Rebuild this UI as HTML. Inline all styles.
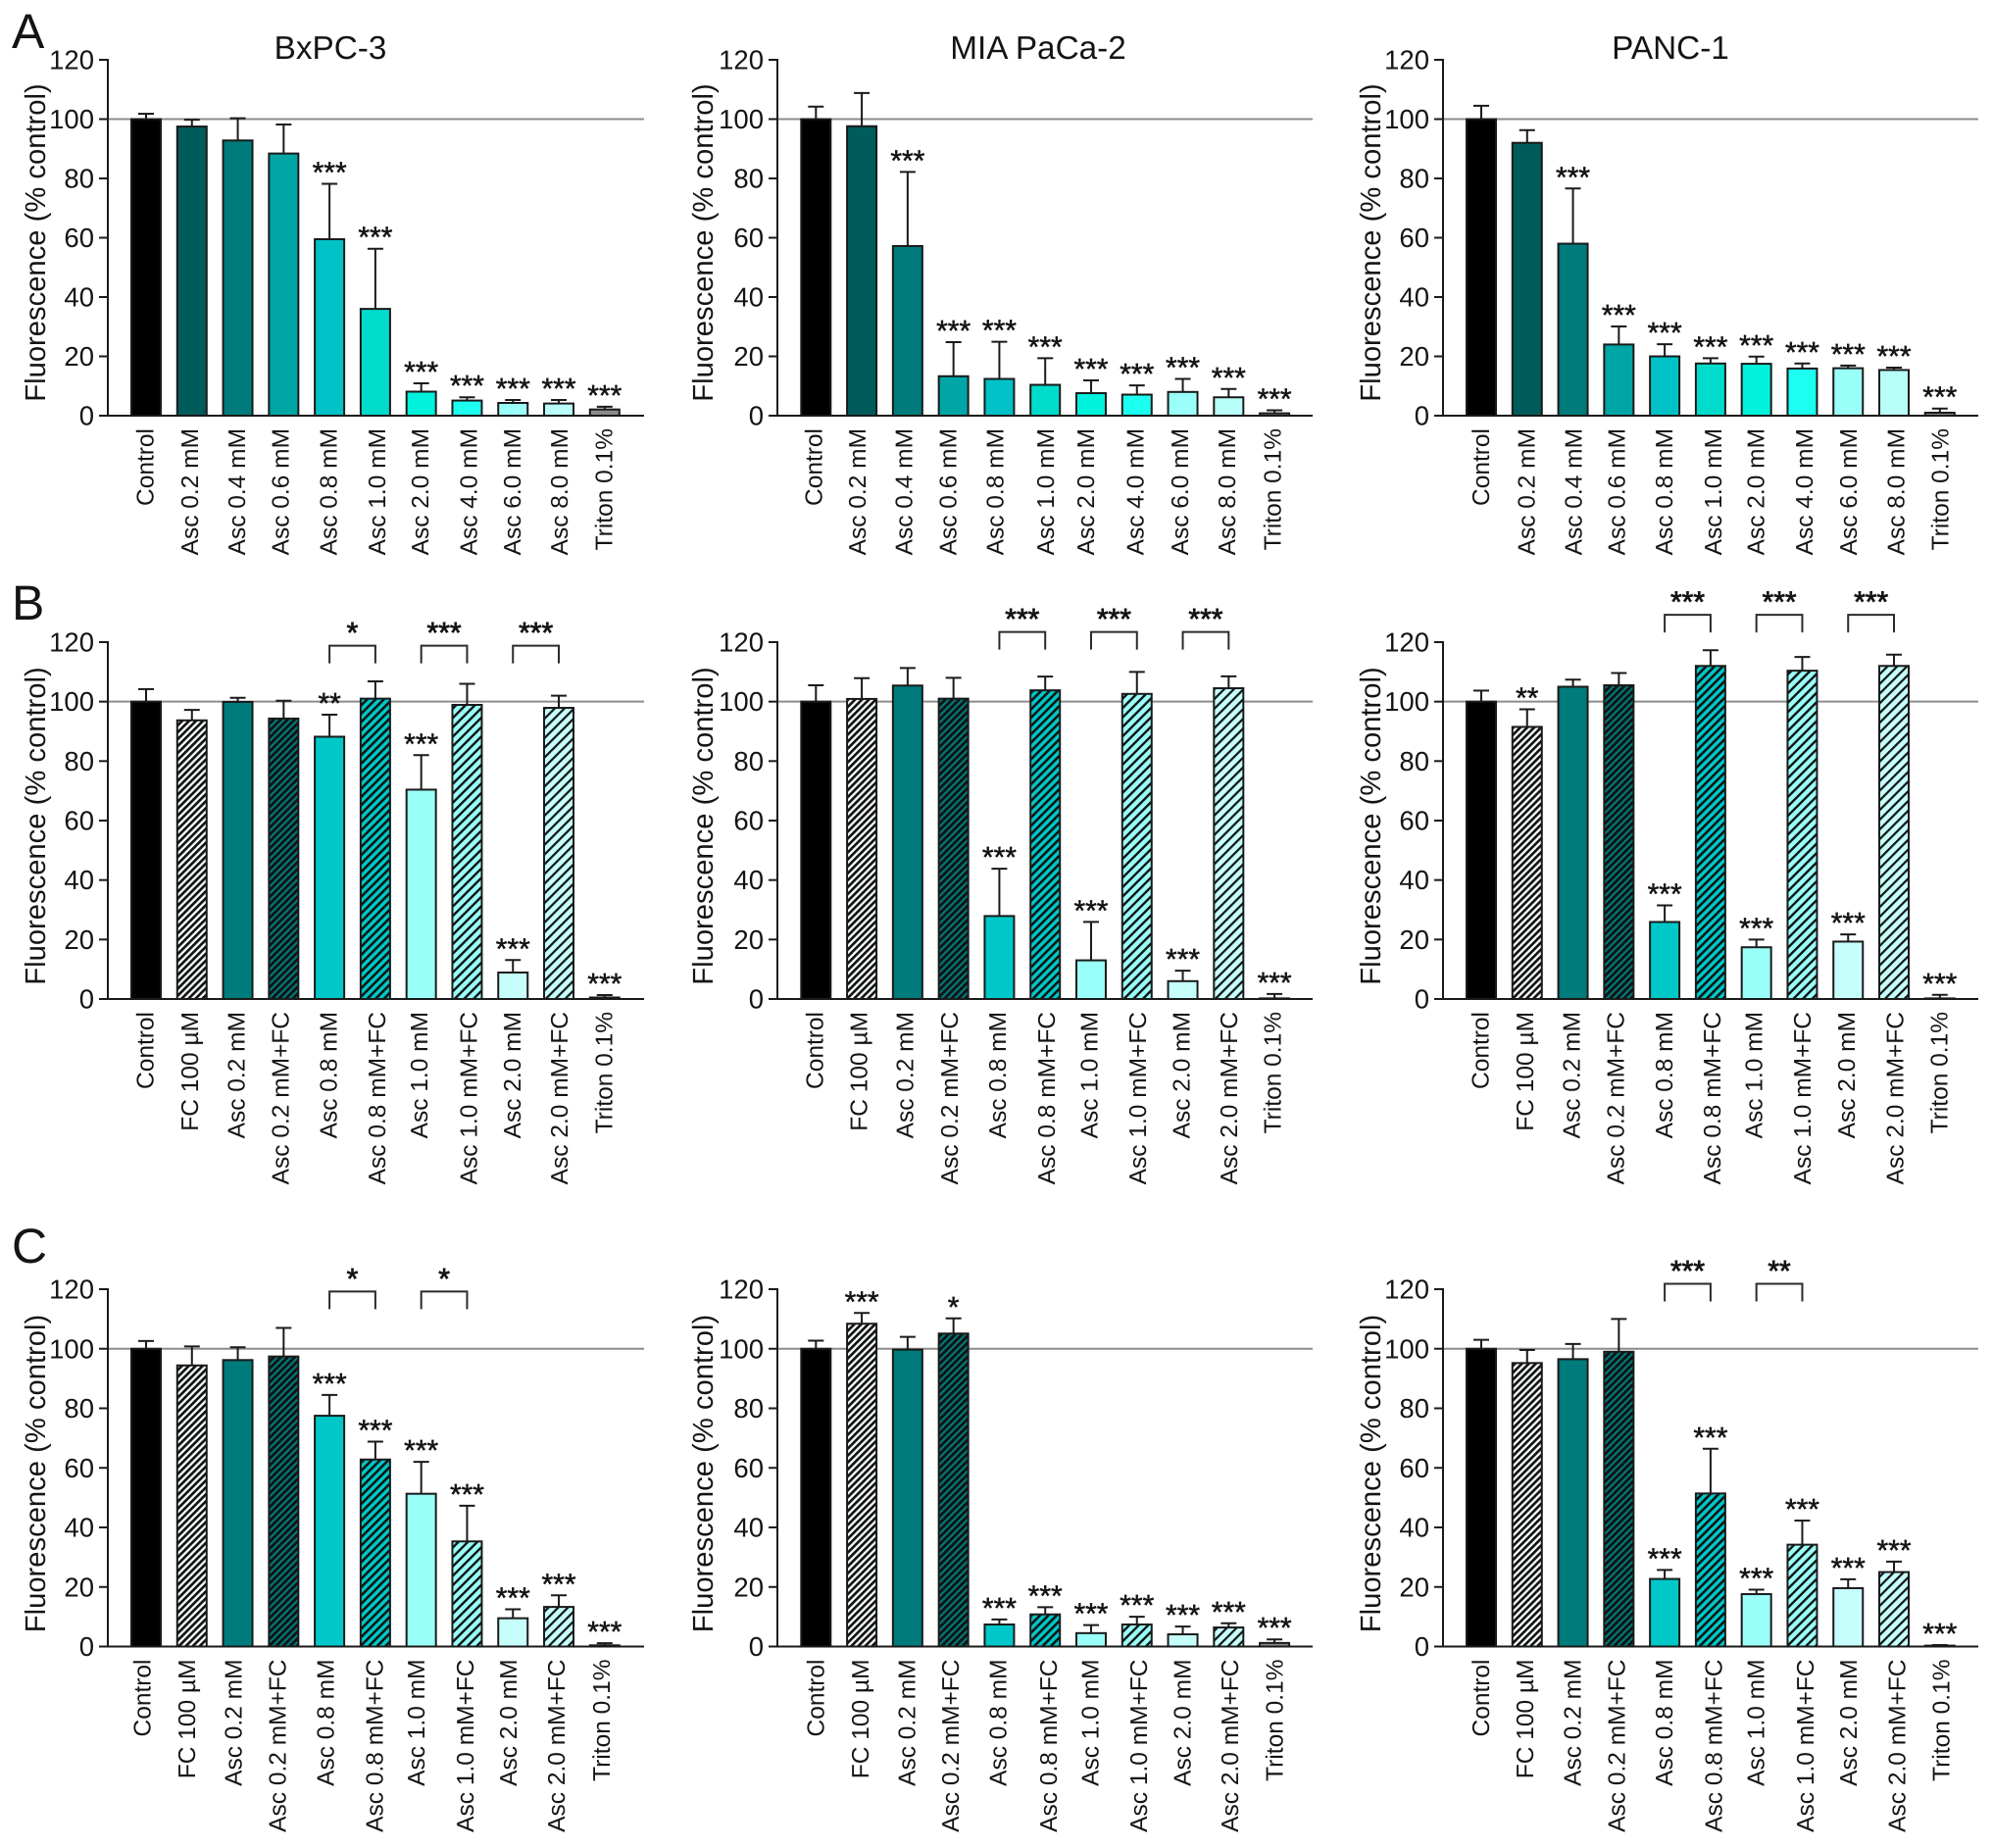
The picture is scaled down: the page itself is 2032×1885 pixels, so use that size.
<!DOCTYPE html>
<html lang="en">
<head>
<meta charset="utf-8">
<title>Fluorescence viability panels</title>
<style>
html,body{margin:0;padding:0;background:#fff;}
svg{display:block;}
text{font-family:"Liberation Sans",Arial,sans-serif;fill:#141414;text-rendering:geometricPrecision;}
</style>
</head>
<body>
<svg id="figure" xmlns="http://www.w3.org/2000/svg" width="2032" height="1885" viewBox="0 0 2032 1885">
  <defs id="defs"></defs>
  <text x="12" y="49" font-size="50">A</text>
  <text x="12" y="632" font-size="50">B</text>
  <text x="12" y="1288" font-size="50">C</text>
  <text x="337" y="60" font-size="33.3" text-anchor="middle">BxPC-3</text>
  <text x="1059" y="60" font-size="33.3" text-anchor="middle">MIA PaCa-2</text>
  <text x="1704" y="60" font-size="33.3" text-anchor="middle">PANC-1</text>
</svg>
<script>
// ---- categories and tick labels ----
const categoriesA = ['Control','Asc 0.2 mM','Asc 0.4 mM','Asc 0.6 mM','Asc 0.8 mM','Asc 1.0 mM','Asc 2.0 mM','Asc 4.0 mM','Asc 6.0 mM','Asc 8.0 mM','Triton 0.1%'];
const categoriesBC = ['Control','FC 100 µM','Asc 0.2 mM','Asc 0.2 mM+FC','Asc 0.8 mM','Asc 0.8 mM+FC','Asc 1.0 mM','Asc 1.0 mM+FC','Asc 2.0 mM','Asc 2.0 mM+FC','Triton 0.1%'];
const yTicks = [0,20,40,60,80,100,120];

// ---- row A values (mean, mean + error) ----
const a1Values = [100,97.5,92.8,88.4,59.5,36,8.1,5.1,4.3,4.1,2.1];
const a1Errors = [101.8,99.8,100.3,98.2,78.2,56.3,10.9,6.2,5.3,5.3,3.0];
const a1Stars = ['','','','','***','***','***','***','***','***','***'];
const a2Values = [100,97.6,57.2,13.3,12.4,10.4,7.6,7.1,8,6.2,0.8];
const a2Errors = [104.2,108.8,82.2,24.8,24.9,19.4,11.9,10.2,12.4,9,1.8];
const a2Stars = ['','','***','***','***','***','***','***','***','***','***'];
const a3Values = [100,92,58,24,20,17.6,17.5,15.9,16,15.4,1];
const a3Errors = [104.5,96.3,76.6,30.1,24.1,19.4,19.9,17.6,16.9,16.2,2.4];
const a3Stars = ['','','***','***','***','***','***','***','***','***','***'];

// ---- row B values ----
const b1Values = [100,93.7,99.9,94.3,88.2,101,70.4,98.9,8.9,97.9,0.5];
const b1Errors = [104.2,97.2,101.3,100.3,95.6,106.8,82,106,13.1,102,1.3];
const b1Stars = ['','','','','**','','***','','***','','***'];
const b2Values = [100,100.9,105.4,101,27.9,103.8,13,102.6,6,104.5,0.2];
const b2Errors = [105.5,107.9,111.3,108,43.8,108.4,25.9,110,9.5,108.5,1.7];
const b2Stars = ['','','','','***','','***','','***','','***'];
const b3Values = [100,91.5,105,105.5,25.9,112,17.4,110.4,19.3,112,0.2];
const b3Errors = [103.7,97.4,107.4,109.6,31.5,117.3,20,115,21.7,115.8,1.4];
const b3Stars = ['','**','','','***','','***','','***','','***'];

// ---- row C values ----
const c1Values = [100,94.4,96.2,97.4,77.5,62.8,51.3,35.3,9.5,13.3,0.4];
const c1Errors = [102.6,100.8,100.5,107,84.5,68.8,62,47.3,12.5,17.2,1.1];
const c1Stars = ['','','','','***','***','***','***','***','***','***'];
const c2Values = [100,108.4,99.7,105.1,7.4,10.8,4.5,7.4,4.1,6.4,1.2];
const c2Errors = [102.7,112,104,110.2,9.1,13.2,7.2,10,6.7,7.8,2.4];
const c2Stars = ['','***','','*','***','***','***','***','***','***','***'];
const c3Values = [100,95.2,96.5,99,22.7,51.4,17.6,34.2,19.6,25,0.3];
const c3Errors = [103,99.6,101.6,110,25.7,66.4,19.1,42.3,22.6,28.5,0.5];
const c3Stars = ['','','','','***','***','***','***','***','***','***'];

// ---- comparison brackets: group labels and their data-level height ----
const b1BracketLabels = ['*','***','***'];
const b23BracketLabels = ['***','***','***'];
const c1BracketLabels = ['*','*'];
const c2BracketLabels = [];
const c3BracketLabels = ['***','**'];
const bracketLevels = {b1:118.8,b2:123.4,b3:129.2,c1:119.2,c2:0,c3:121.8};

// ---- fills ----
const fillsA = ['#000000','#005b5b','#007b7b','#00a5a5','#00c2c6','#00dccc','#00f2dc','#1cfff0','#99fff8','#b8fff9','#8a8a8a'];
const fillsBC = ['#000000','#ffffff','#007b7b','#007b7b','#00c8c8','#00c8c8','#99fff8','#99fff8','#c6fefb','#c6fefb','#8a8a8a'];
const hatchPeriodBC = [0,5,0,5,0,6,0,6.8,0,7,0];
const hatchStripeBC = [0,2.7,0,2.9,0,2.6,0,2.4,0,2.2,0];

// ---- label nudges (per panel, fine placement of rotated category text) ----
const a1Nudge = [-1.3,-3,-1.8,-4,-1.8,1.3,-1.8,1,-1.3,0,-1.3];
const a2Nudge = [-3,-5.2,-4.3,-6,-4.8,-0.4,-6,-2.2,-3.5,-2.2,-2.6];
const a3Nudge = [-0.9,-1.3,0,-3,-1.3,2,-1,1.7,0,1.7,-0.4];
const b1Nudge = [-1.3,-3,-2.2,-4,-1.8,1.3,-2.7,1,-1.3,0,-1.3];
const b2Nudge = [-1.7,-3.5,-3.5,-4.8,-2.6,0.9,-2.6,0.4,-2.2,-0.4,-2.6];
const b3Nudge = [-1.7,-2.6,-2.1,-3.9,-1.3,0.9,-3,-0.4,-2.1,0.4,-1.3];
const c1Nudge = [-4.6,-5.8,-5,-6.6,-4.4,-1.3,-5.7,-2.5,-5,-3,-4];
const c2Nudge = [-0.9,-2.2,-1.3,-3.5,-1.7,2.6,-1.7,1.3,-0.9,0.9,-0.4];
const c3Nudge = [-0.9,-2.6,-1.3,-2.6,-0.9,2.6,-1.3,2.6,-0.4,2.6,0.9];

const columnAxis = [110,793,1472];
const columnFirst = [149,832.3,1511];
const columnRight = [657,1339,2018];
const columnTitleOffset = [64,66,64];
const rowTop = [61,655,1315];
const rowZero = [424,1019,1679.5];

const panels = [
 {id:'a1',col:0,row:0,cats:categoriesA,vals:a1Values,errs:a1Errors,stars:a1Stars,fills:fillsA,nudge:a1Nudge,brackets:[]},
 {id:'a2',col:1,row:0,cats:categoriesA,vals:a2Values,errs:a2Errors,stars:a2Stars,fills:fillsA,nudge:a2Nudge,brackets:[]},
 {id:'a3',col:2,row:0,cats:categoriesA,vals:a3Values,errs:a3Errors,stars:a3Stars,fills:fillsA,nudge:a3Nudge,brackets:[]},
 {id:'b1',col:0,row:1,cats:categoriesBC,vals:b1Values,errs:b1Errors,stars:b1Stars,fills:fillsBC,hatch:true,nudge:b1Nudge,brackets:b1BracketLabels},
 {id:'b2',col:1,row:1,cats:categoriesBC,vals:b2Values,errs:b2Errors,stars:b2Stars,fills:fillsBC,hatch:true,nudge:b2Nudge,brackets:b23BracketLabels},
 {id:'b3',col:2,row:1,cats:categoriesBC,vals:b3Values,errs:b3Errors,stars:b3Stars,fills:fillsBC,hatch:true,nudge:b3Nudge,brackets:b23BracketLabels},
 {id:'c1',col:0,row:2,cats:categoriesBC,vals:c1Values,errs:c1Errors,stars:c1Stars,fills:fillsBC,hatch:true,nudge:c1Nudge,brackets:c1BracketLabels},
 {id:'c2',col:1,row:2,cats:categoriesBC,vals:c2Values,errs:c2Errors,stars:c2Stars,fills:fillsBC,hatch:true,nudge:c2Nudge,brackets:c2BracketLabels},
 {id:'c3',col:2,row:2,cats:categoriesBC,vals:c3Values,errs:c3Errors,stars:c3Stars,fills:fillsBC,hatch:true,nudge:c3Nudge,brackets:c3BracketLabels}
];

const NS = 'http://www.w3.org/2000/svg';
const svg = document.getElementById('figure');
const defs = document.getElementById('defs');
const INK = '#1a1a1a';
const STEP = 46.78;
const BAR_W = 30;
const CAP = 8;

function make(tag, attrs, parent, text) {
  const el = document.createElementNS(NS, tag);
  for (const k in attrs) el.setAttribute(k, attrs[k]);
  if (text !== undefined) el.textContent = text;
  parent.appendChild(el);
  return el;
}

function hatchFill(i) {
  const id = 'hatch-' + i;
  const period = hatchPeriodBC[i];
  if (!document.getElementById(id)) {
    const p = make('pattern', {id:id, patternUnits:'userSpaceOnUse', width:period, height:period, patternTransform:'rotate(45)'}, defs);
    
    
    const bg = make('rect', {x:0, y:0, width:period, height:period, fill:fillsBC[i]}, p);
    
    
    const stripe = make('rect', {x:0, y:0, width:hatchStripeBC[i], height:period, fill:'#101414'}, p);
    
    
  }
  return 'url(#' + id + ')';
}

function drawPanel(cfg) {
  const axisX = columnAxis[cfg.col], right = columnRight[cfg.col], first = columnFirst[cfg.col];
  const top = rowTop[cfg.row], zero = rowZero[cfg.row];
  const yScale = v => zero - v * (zero - top) / 120;
  const xScale = i => first + i * STEP;

  const g = make('g', {}, svg);
  
  

  const ref = make('line', {x1:axisX, x2:right, y1:yScale(100), y2:yScale(100), stroke:'#8c8c8c', 'stroke-width':2}, g);
  
  

  cfg.vals.forEach((v, i) => {
    const cx = xScale(i), yv = yScale(v), ye = yScale(cfg.errs[i]);
    const stem = make('line', {x1:cx, x2:cx, y1:yv, y2:ye, stroke:INK, 'stroke-width':2}, g);
    
    
    const cap = make('line', {x1:cx - CAP, x2:cx + CAP, y1:ye, y2:ye, stroke:INK, 'stroke-width':2}, g);
    
    
    const fill = cfg.hatch && hatchPeriodBC[i] ? hatchFill(i) : cfg.fills[i];
    const bar = make('rect', {x:cx - BAR_W / 2, y:yv, width:BAR_W, height:zero - yv, fill:fill, stroke:INK, 'stroke-width':2}, g);
    
    
    if (cfg.stars[i]) {
      const st = make('text', {x:cx, y:ye - 1.5, 'font-size':30, 'text-anchor':'middle', stroke:'#141414', 'stroke-width':0.5}, g, cfg.stars[i]);
      
      
    }
    const lx = cx + 9 + cfg.nudge[i];
    const ly = zero + 13;
    const lab = make('text', {x:lx, y:ly, 'font-size':24.5, 'text-anchor':'end', transform:'rotate(-90 ' + lx + ' ' + ly + ')'}, g, cfg.cats[i]);
    
    
  });

  cfg.brackets.forEach((label, k) => {
    const xa = xScale(4 + 2 * k), xb = xScale(5 + 2 * k);
    const yt = yScale(bracketLevels[cfg.id]);
    const yb = yt + 18;
    const br = make('polyline', {points:xa + ',' + yb + ' ' + xa + ',' + yt + ' ' + xb + ',' + yt + ' ' + xb + ',' + yb, fill:'none', stroke:'#2a2a2a', 'stroke-width':2}, g);
    
    
    const bs = make('text', {x:(xa + xb) / 2, y:yt - 3, 'font-size':30, 'text-anchor':'middle', stroke:'#141414', 'stroke-width':0.8}, g, label);
    
    
  });

  const yAxis = make('line', {x1:axisX, x2:axisX, y1:top - 1, y2:zero + 1, stroke:INK, 'stroke-width':2}, g);
  
  
  const xAxis = make('line', {x1:axisX - 9, x2:right, y1:zero, y2:zero, stroke:INK, 'stroke-width':2}, g);
  
  

  yTicks.forEach(t => {
    const ty = yScale(t);
    const tick = make('line', {x1:axisX - 9, x2:axisX, y1:ty, y2:ty, stroke:INK, 'stroke-width':2}, g);
    
    
    const tl = make('text', {x:axisX - 14, y:ty + 9.5, 'font-size':27.5, 'text-anchor':'end'}, g, String(t));
    
    
  });

  const tx = axisX - columnTitleOffset[cfg.col], tyc = zero - 176.5;
  const title = make('text', {x:tx, y:tyc, 'font-size':29.2, 'text-anchor':'middle', transform:'rotate(-90 ' + tx + ' ' + tyc + ')'}, g, 'Fluorescence (% control)');
  
  
}

panels.forEach(drawPanel);
</script>
</body>
</html>
